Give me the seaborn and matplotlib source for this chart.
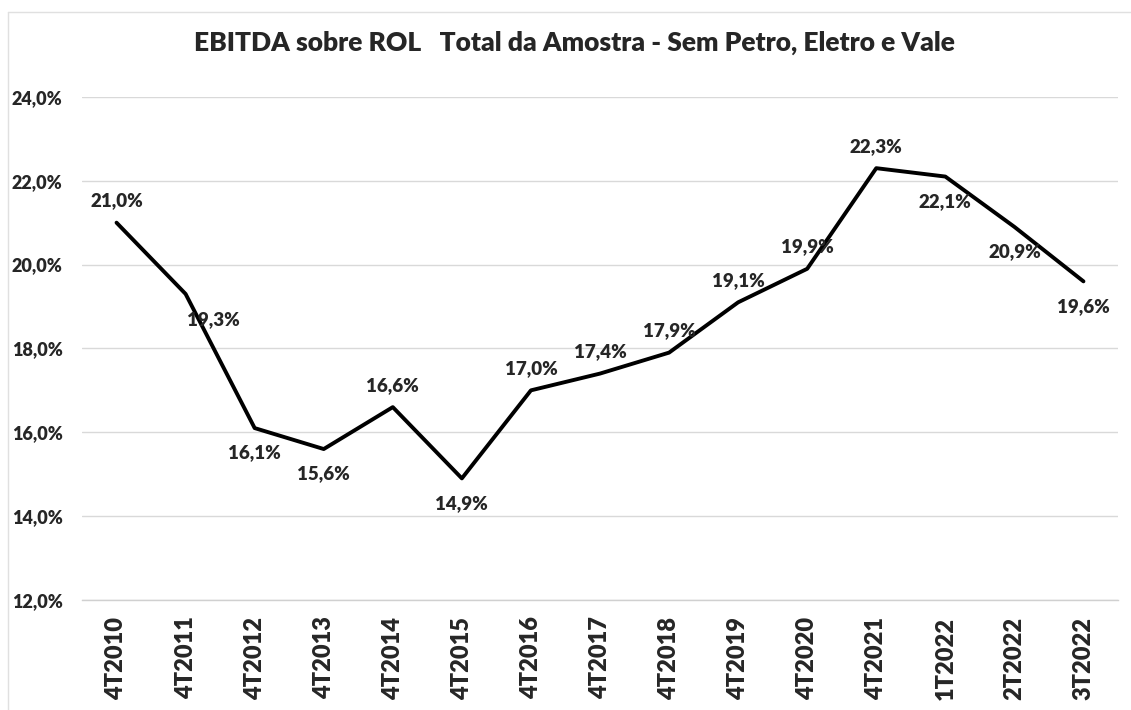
import matplotlib
matplotlib.use("Agg")
import matplotlib.pyplot as plt
import seaborn as sns
import pandas as pd
from matplotlib.lines import Line2D

# Data
periods = ["4T2010", "4T2011", "4T2012", "4T2013", "4T2014", "4T2015", "4T2016", "4T2017",
           "4T2018", "4T2019", "4T2020", "4T2021", "1T2022", "2T2022", "3T2022"]
ebitda_rol = [21.0, 19.3, 16.1, 15.6, 16.6, 14.9, 17.0, 17.4, 17.9, 19.1, 19.9, 22.3, 22.1, 20.9, 19.6]
label_pos = ["above", "right_below", "below", "below", "above", "below", "above", "above",
             "above", "above", "above", "above", "below", "below", "below"]
y_ticks = [12, 14, 16, 18, 20, 22, 24]

df = pd.DataFrame({"periodo": periods, "valor": ebitda_rol})

sns.set_style("white")
plt.rcParams["font.family"] = ["Lato", "DejaVu Sans"]
W = 800

fig = plt.figure(figsize=(11.31, 7.10), dpi=100)
ax = fig.add_axes([0.0725, 0.155, 0.916, 0.7085])

sns.lineplot(data=df, x="periodo", y="valor", color="black", linewidth=2.8, ax=ax, sort=False)

ax.set_ylim(12, 24)
ax.set_xlim(-0.5, len(periods) - 0.5)
ax.set_yticks(y_ticks)
ax.set_yticklabels([f"{v:.1f}%".replace(".", ",") for v in y_ticks],
                   fontsize=13, fontweight=W)
ax.set_xticks(range(len(periods)))
ax.set_xticklabels(periods, rotation=90, fontsize=17, fontweight=W)
ax.tick_params(axis="x", which="major", length=0, pad=12)
ax.set_xticks([i - 0.5 for i in range(len(periods) + 1)], minor=True)
ax.tick_params(axis="x", which="minor", length=8, color="#d0d0d0", width=1)
ax.tick_params(axis="y", length=0, pad=14)

ax.grid(axis="y", color="#d9d9d9", linewidth=1)
ax.grid(axis="x", visible=False)
for s in ["top", "right", "left"]:
    ax.spines[s].set_visible(False)
ax.spines["bottom"].set_color("#d0d0d0")
ax.spines["bottom"].set_linewidth(1)
ax.set_xlabel("")
ax.set_ylabel("")

# data labels
for i, (v, pos) in enumerate(zip(ebitda_rol, label_pos)):
    txt = f"{v:.1f}%".replace(".", ",")
    if pos == "above":
        off = (0, 22)
    elif pos == "below":
        off = (0, -25)
    else:
        off = (28, -26)
    ax.annotate(txt, (i, v), xytext=off, textcoords="offset pixels",
                ha="center", va="center", fontsize=13.5, fontweight=W)

fig.text(0.508, 0.94, "EBITDA sobre ROL   Total da Amostra - Sem Petro, Eletro e Vale",
         ha="center", va="center", fontsize=19, fontweight=W)

# light frame
fig.add_artist(Line2D([8 / 1131, 8 / 1131], [0, 1 - 12 / 710], color="#e0e0e0", linewidth=1))
fig.add_artist(Line2D([8 / 1131, 1], [1 - 12 / 710, 1 - 12 / 710], color="#e0e0e0", linewidth=1))

fig.savefig("out.png", dpi=100)
